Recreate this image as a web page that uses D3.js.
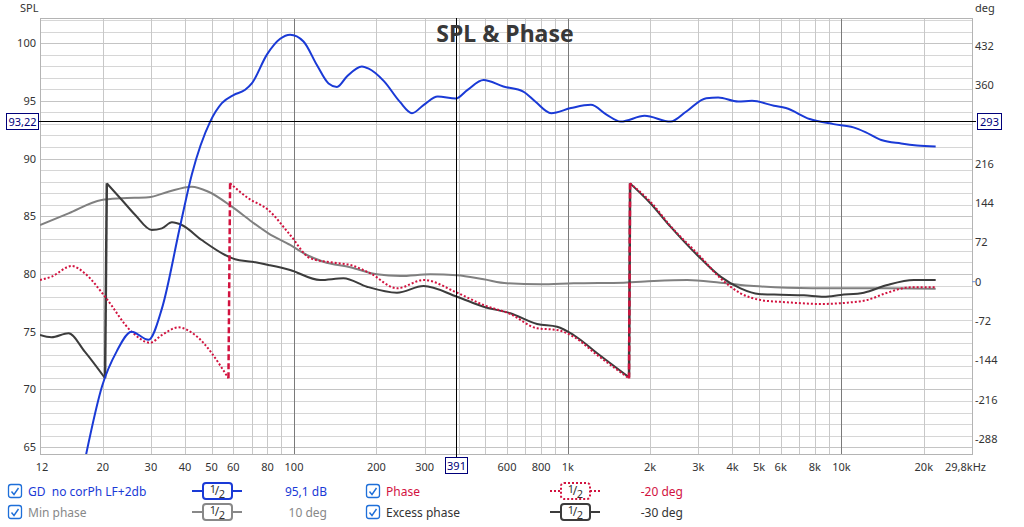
<!DOCTYPE html>
<html>
<head>
<meta charset="utf-8">
<script src="https://cdn.jsdelivr.net/npm/d3@7/dist/d3.min.js"></script>
<style>
body { margin: 0; background: #fff; }
svg text { font-family: "Noto Sans", "Open Sans", sans-serif; white-space: pre; }
</style>
</head>
<body>
<svg width="1024" height="527"></svg>
<script>
// **** data: [frequency Hz, value] ****

var splData = [
  [17.4, 64.4], [19.9, 70.3], [22.5, 73.3], [25.5, 75.0], [29.4, 74.3], [32.9, 77.0],
  [38.4, 84.2], [42.3, 88.6], [49.4, 93.2], [54.5, 94.8], [60.1, 95.5], [66.3, 95.95],
  [70.1, 96.5], [79.6, 99.0], [89.0, 100.37], [96.8, 100.72], [108.3, 100.14], [121.2, 98.1],
  [133.7, 96.5], [143.5, 96.2], [156, 97.1], [177, 97.97], [186.7, 97.8], [213, 96.7],
  [243.8, 94.9], [269.8, 93.93], [298, 94.65], [335, 95.37], [390, 95.2], [430.7, 95.95],
  [492.5, 96.8], [582, 96.24], [688, 95.8], [761, 94.94], [870, 93.93], [1028, 94.37],
  [1215, 94.65], [1390, 93.78], [1562, 93.2], [1910, 93.7], [2374, 93.2], [2713, 94.07],
  [3208, 95.23], [3547, 95.28], [4193, 94.94], [4714, 95.0], [5667, 94.57], [6266, 94.37],
  [7656, 93.42], [9364, 92.98], [11060, 92.7], [12234, 92.29], [13990, 91.6], [16527, 91.3],
  [18890, 91.13], [22100, 91.04]
];

var phaseData = [
  [11.8, 3.1], [13.0, 9.2], [15.4, 28.7], [17.2, 15.4], [20.4, -27.5], [25.5, -91.5],
  [29.8, -111.7], [32.9, -97.6], [37.8, -83.5], [43.5, -97.6], [57.6, -176.8],
  [58.4, 180.1], [68.1, 152.7], [80.6, 131.2], [96.8, 85.5], [114.6, 42.8], [139.4, 34.8],
  [160.5, 30.6], [189.9, 15.4], [237.8, -12.1], [297.4, 3.1], [394, -20.1], [492.9, -42.7],
  [617, -59.1], [773, -85.3], [914.5, -88.4], [1051, -100.7], [1281, -134.2], [1675, -177],
  [1690, 180], [2005, 146.4], [2374, 102], [3055, 45.8], [3616, 6.2], [4279, -21.2],
  [5063, -33.5], [6339, -37.7], [8391, -40.8], [10504, -38.4], [12430, -33.5],
  [14713, -20.1], [17897, -10.3], [22100, -10.3]
];

var minPhaseData = [
  [11.8, 103.8], [15.0, 125.2], [19.8, 149.6], [23.5, 152.7], [29.4, 154.5], [34.7, 164.7],
  [42.3, 173.9], [48.7, 164.7], [59.3, 137.3], [70.1, 109.8], [80.6, 88.6], [96.8, 67.2],
  [111.4, 48.9], [128.1, 36.6], [160.5, 26.4], [200.8, 13.5], [244.5, 10.4], [314.7, 13.5],
  [394, 11.7], [492.9, 4.4], [600, -2.9], [794, -4.8], [1051, -2.9], [1602, -1.8],
  [2061, 1.3], [2732, 3.1], [3616, -1.8], [4785, -7.9], [6339, -11.0], [9658, -12.1],
  [14713, -12.1], [22100, -12.8]
];

var excessData = [
  [11.8, -97.6], [13.0, -101.8], [15.0, -94.5], [17.2, -128.1], [20.4, -176.8],
  [20.7, 180.1], [23.5, 149.6], [26.3, 122.1], [30.2, 94.6], [32.9, 97.7], [35.8, 108.7],
  [38.9, 103.8], [46.0, 76.3], [56.0, 48.9], [60.9, 41.0], [70.1, 36.6], [80.6, 30.6],
  [96.8, 21.4], [124.6, 3.1], [151.6, 6.2], [184.6, -9.2], [237.8, -20.1], [297.4, -7.9],
  [394, -27.5], [492.9, -45.8], [617, -57.8], [773, -77.4], [914.5, -82.4], [1051, -97.6],
  [1281, -131], [1675, -175], [1690, 180], [2005, 143.5], [2374, 100.7], [3055, 42.8],
  [3616, 9.2], [4279, -12.1], [4991, -22.5], [5991, -23.8], [7292, -24.9], [8627, -27.5],
  [9929, -24.3], [12081, -20.1], [14713, -6.0], [18408, 3.1], [22100, 3.1]
];

var xTicks = [12, 20, 30, 40, 50, 60, 80, 100, 200, 300, 600, 800, 1000, 2000, 3000, 4000, 5000, 6000, 8000, 10000, 20000];
var xEndLabel = "29,8kHz";
var xGrid = [20, 30, 40, 50, 60, 70, 80, 90, 200, 300, 400, 500, 600, 700, 800, 900,
             2000, 3000, 4000, 5000, 6000, 7000, 8000, 9000, 20000];
var xGridMajor = [100, 1000, 10000];
var splTicks = [65, 70, 75, 80, 85, 90, 95, 100];
var degTicks = [-288, -216, -144, -72, 0, 72, 144, 216, 360, 432];

var cursorFreq = 391, cursorSpl = 93.22, cursorDeg = 293;
var cursorFreqLabel = "391", cursorSplLabel = "93,22", cursorDegLabel = "293";

var legendNames = ["GD  no corPh LF+2db", "Min phase", "Phase", "Excess phase"];
var legendValues = ["95,1 dB", "10 deg", "-20 deg", "-30 deg"];

// **** scales ****

var L = 40, R = 972, T = 18, B = 454;
var xScale = d3.scaleLog().domain([11.8, 30000]).range([L, R]);
var splScale = d3.scaleLinear().domain([64.41, 102.17]).range([B, T]);
var degScale = d3.scaleLinear().domain([-315.4, 482.7]).range([B, T]);

var svg = d3.select('svg');

svg.append('defs').append('clipPath').attr('id', 'plot')
  .append('rect').attr('x', L).attr('y', T).attr('width', R - L).attr('height', B - T);

// **** grid ****

var grid = svg.append('g');
d3.range(65, 103).forEach(function(v) {
  grid.append('line')
    .attr('x1', L).attr('x2', R)
    .attr('y1', Math.round(splScale(v)) + 0.5).attr('y2', Math.round(splScale(v)) + 0.5)
    .attr('stroke', v % 5 == 0 ? '#c4c4c4' : '#d6d6d6').attr('stroke-width', 1);
});
xGrid.forEach(function(f) {
  grid.append('line')
    .attr('x1', Math.round(xScale(f)) + 0.5).attr('x2', Math.round(xScale(f)) + 0.5)
    .attr('y1', T).attr('y2', B)
    .attr('stroke', '#c8c8c8');
});
xGridMajor.forEach(function(f) {
  grid.append('line')
    .attr('x1', Math.round(xScale(f)) + 0.5).attr('x2', Math.round(xScale(f)) + 0.5)
    .attr('y1', T).attr('y2', B)
    .attr('stroke', '#7a7a7a');
});
svg.append('rect').attr('x', L + 0.5).attr('y', T + 0.5)
  .attr('width', R - L).attr('height', B - T)
  .attr('fill', 'none').attr('stroke', '#b4b4b4');

// **** axes labels ****

svg.append('text').attr('x', 20).attr('y', 12).attr('font-size', 11).attr('fill', '#333').text('SPL');
svg.append('text').attr('x', 975).attr('y', 12).attr('font-size', 11).attr('fill', '#333').text('deg');

svg.selectAll('text.yl').data(splTicks).enter().append('text')
  .attr('class', 'yl')
  .attr('x', 36).attr('y', function(d) { return splScale(d) + 4; })
  .attr('text-anchor', 'end').attr('font-size', 11).attr('fill', '#333')
  .text(function(d) { return d; });

svg.selectAll('text.yr').data(degTicks).enter().append('text')
  .attr('class', 'yr')
  .attr('x', 975).attr('y', function(d) { return degScale(d) + 4; })
  .attr('font-size', 11).attr('fill', '#333')
  .text(function(d) { return d; });

svg.append('line').attr('x1', 972).attr('x2', 977)
  .attr('y1', degScale(0)).attr('y2', degScale(0))
  .attr('stroke', '#7090d0');

svg.selectAll('text.xl').data(xTicks).enter().append('text')
  .attr('class', 'xl')
  .attr('x', function(d) { return xScale(d); }).attr('y', 471)
  .attr('text-anchor', 'middle').attr('font-size', 11).attr('fill', '#333')
  .text(function(d) { return d >= 1000 ? (d / 1000) + 'k' : d; });
svg.append('text').attr('x', 986).attr('y', 471).attr('text-anchor', 'end')
  .attr('font-size', 11).attr('fill', '#333').text(xEndLabel);

// **** curves ****

function splitWraps(data) {
  var segs = [[data[0]]];
  for (var i = 1; i < data.length; i++) {
    if (Math.abs(data[i][1] - data[i - 1][1]) > 200) segs.push([]);
    segs[segs.length - 1].push(data[i]);
  }
  return segs;
}

function drawSeries(data, yScale, color, width, dash) {
  var g = svg.append('g').attr('clip-path', 'url(#plot)');
  var line = d3.line()
    .x(function(d) { return xScale(d[0]); })
    .y(function(d) { return yScale(d[1]); })
    .curve(d3.curveMonotoneX);
  var segs = splitWraps(data);
  segs.forEach(function(s, i) {
    g.append('path').attr('d', line(s))
      .attr('fill', 'none').attr('stroke', color).attr('stroke-width', width)
      .attr('stroke-dasharray', dash);
    if (i > 0) {
      var a = segs[i - 1][segs[i - 1].length - 1], b = s[0];
      g.append('line')
        .attr('x1', xScale(a[0])).attr('y1', yScale(a[1]))
        .attr('x2', xScale(b[0])).attr('y2', yScale(b[1]))
        .attr('stroke', color).attr('stroke-width', width + 0.5)
        .attr('stroke-dasharray', dash ? '6,3' : null);
    }
  });
}

drawSeries(minPhaseData, degScale, '#808080', 2, null);
drawSeries(excessData, degScale, '#3c3c3c', 2, null);
drawSeries(phaseData, degScale, '#d2123f', 2, '2,2');
drawSeries(splData, splScale, '#1a3ad6', 2, null);

// **** cursor ****

var cx = Math.round(xScale(cursorFreq)) + 0.5;
var cy = Math.round(splScale(cursorSpl)) + 0.5;
svg.append('line').attr('x1', cx).attr('x2', cx).attr('y1', T).attr('y2', B + 3)
  .attr('stroke', '#000');
svg.append('line').attr('x1', L - 2).attr('x2', R + 4).attr('y1', cy).attr('y2', cy)
  .attr('stroke', '#000');

function cursorBox(x, y, w, label) {
  svg.append('rect').attr('x', x + 0.5).attr('y', y + 0.5).attr('width', w).attr('height', 16)
    .attr('fill', '#fff').attr('stroke', '#00007a');
  svg.append('text').attr('x', x + w / 2 + 0.5).attr('y', y + 13)
    .attr('text-anchor', 'middle').attr('font-size', 11).attr('fill', '#00007a').text(label);
}
cursorBox(cx - 11.5, 457, 22, cursorFreqLabel);
cursorBox(6, cy - 8.5, 32, cursorSplLabel);
cursorBox(977, cy - 8.5, 24, cursorDegLabel);

// **** title ****

svg.append('text').attr('x', 505).attr('y', 42).attr('text-anchor', 'middle')
  .attr('font-size', 23).attr('font-weight', 'bold').attr('fill', '#383838')
  .text('SPL & Phase');

// **** legend ****

var legColors = ['#1a3ad6', '#888888', '#d2123f', '#3c3c3c'];
var legText = ['#1a3ad6', '#888888', '#d2123f', '#333333'];
var legDash = [null, null, '2,2', null];

legendNames.forEach(function(name, i) {
  var col = Math.floor(i / 2), row = i % 2;
  var y0 = row == 0 ? 491 : 512;
  var bx = col == 0 ? 8 : 366;
  var g = svg.append('g');
  // checkbox
  g.append('rect').attr('x', bx + 0.5).attr('y', y0 - 6.5).attr('width', 13).attr('height', 13)
    .attr('rx', 2.5).attr('fill', '#fff').attr('stroke', '#1e6fd9').attr('stroke-width', 1.3);
  g.append('path')
    .attr('d', 'M' + (bx + 3.5) + ',' + (y0 + 0.5) + 'L' + (bx + 6) + ',' + (y0 + 3.5) + 'L' + (bx + 10.5) + ',' + (y0 - 3))
    .attr('fill', 'none').attr('stroke', '#1e6fd9').attr('stroke-width', 1.4);
  g.append('text').attr('x', bx + 20).attr('y', y0 + 4.5)
    .attr('font-size', 12).attr('fill', legText[i]).text(name);
  // smoothing symbol
  var lx = col == 0 ? 192 : 550;
  g.append('line').attr('x1', lx).attr('x2', lx + 50).attr('y1', y0).attr('y2', y0)
    .attr('stroke', legColors[i]).attr('stroke-width', 2).attr('stroke-dasharray', legDash[i]);
  g.append('rect').attr('x', lx + 11).attr('y', y0 - 8).attr('width', 29).attr('height', 16)
    .attr('rx', 3).attr('fill', '#fff').attr('stroke', legColors[i]).attr('stroke-width', 2)
    .attr('stroke-dasharray', legDash[i]);
  g.append('text').attr('x', lx + 21).attr('y', y0 + 2).attr('text-anchor', 'middle')
    .attr('font-size', 11).attr('fill', '#333').text('1');
  g.append('text').attr('x', lx + 25).attr('y', y0 + 4).attr('text-anchor', 'middle')
    .attr('font-size', 12).attr('fill', '#333').text('/');
  g.append('text').attr('x', lx + 30).attr('y', y0 + 7).attr('text-anchor', 'middle')
    .attr('font-size', 11).attr('fill', '#333').text('2');
  // value
  g.append('text').attr('x', col == 0 ? 327 : 683).attr('y', y0 + 4.5)
    .attr('text-anchor', 'end').attr('font-size', 12).attr('fill', legText[i])
    .text(legendValues[i]);
});
</script>
</body>
</html>
